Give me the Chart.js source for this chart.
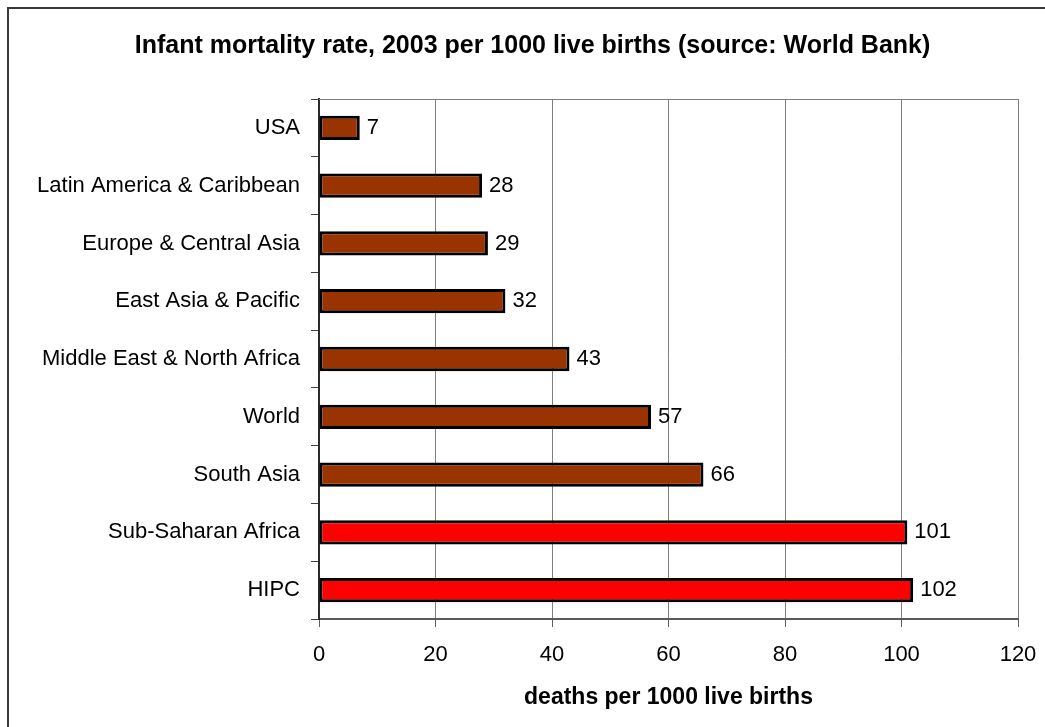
<!DOCTYPE html>
<html>
<head>
<meta charset="utf-8">
<title>Infant mortality rate, 2003</title>
<script src="https://cdn.jsdelivr.net/npm/chart.js@4/dist/chart.umd.min.js"></script>
<style>
  html, body { margin: 0; padding: 0; background: #ffffff; }
  canvas { display: block; }
</style>
</head>
<body>
<canvas id="chart" width="1045" height="727"></canvas>
<script>
// Infant mortality per 1000 live births, 2003 (World Bank)
const regions = [
  'USA',
  'Latin America & Caribbean',
  'Europe & Central Asia',
  'East Asia & Pacific',
  'Middle East & North Africa',
  'World',
  'South Asia',
  'Sub-Saharan Africa',
  'HIPC'
];
const mortalityRates = [7, 28, 29, 32, 43, 57, 66, 101, 102];
const axisTicks = [0, 20, 40, 60, 80, 100, 120];

const chartTitle = 'Infant mortality rate, 2003 per 1000 live births (source: World Bank)';
const axisTitle = 'deaths per 1000 live births';

// Regions shown in red rather than brown
const highlighted = new Set(['Sub-Saharan Africa', 'HIPC']);

const FONT = '"Liberation Sans", Arial, Helvetica, sans-serif';
Chart.defaults.font.family = FONT;
Chart.defaults.color = '#000000';

// Value printed to the right of each bar
const valueLabels = {
  id: 'valueLabels',
  afterDatasetsDraw(chart) {
    const ctx = chart.ctx;
    const meta = chart.getDatasetMeta(0);
    const values = chart.data.datasets[0].data;
    ctx.save();
    ctx.font = '22px ' + FONT;
    ctx.fillStyle = '#000000';
    ctx.textAlign = 'left';
    ctx.textBaseline = 'middle';
    meta.data.forEach((bar, i) => {
      ctx.fillText(String(values[i]), bar.x + 7, bar.y);
    });
    ctx.restore();
  }
};

// Outer frame, heading, and top edge of the plot area
const frame = {
  id: 'frame',
  beforeDraw(chart) {
    const ctx = chart.ctx;
    ctx.save();
    ctx.fillStyle = '#ffffff';
    ctx.fillRect(0, 0, chart.width, chart.height);
    ctx.strokeStyle = '#3a3a3a';
    ctx.lineWidth = 2;
    ctx.beginPath();
    ctx.moveTo(8, chart.height + 5);
    ctx.lineTo(8, 8);
    ctx.lineTo(chart.width + 5, 8);
    ctx.stroke();
    ctx.font = 'bold 25px ' + FONT;
    ctx.fillStyle = '#000000';
    ctx.textAlign = 'center';
    ctx.textBaseline = 'middle';
    ctx.fillText(chartTitle, 532.5, 46);
    ctx.restore();
  },
  afterDraw(chart) {
    const a = chart.chartArea;
    const ctx = chart.ctx;
    ctx.save();
    ctx.strokeStyle = '#808080';
    ctx.lineWidth = 1;
    ctx.beginPath();
    ctx.moveTo(a.left, Math.round(a.top) + 0.5);
    ctx.lineTo(a.right, Math.round(a.top) + 0.5);
    ctx.stroke();
    ctx.restore();
  }
};

new Chart(document.getElementById('chart'), {
  type: 'bar',
  data: {
    labels: regions,
    datasets: [{
      data: mortalityRates,
      backgroundColor: (c) => highlighted.has(regions[c.dataIndex]) ? '#ff0000' : '#993300',
      borderColor: '#000000',
      borderWidth: 3,
      borderSkipped: false,
      categoryPercentage: 1,
      barPercentage: 0.42
    }]
  },
  options: {
    indexAxis: 'y',
    responsive: false,
    animation: false,
    devicePixelRatio: 1,
    layout: { padding: { left: 0, right: 27, top: 99, bottom: 0 } },
    plugins: {
      legend: { display: false },
      tooltip: { enabled: false },
      title: { display: false }
    },
    scales: {
      x: {
        type: 'linear',
        min: 0,
        max: 120,
        afterBuildTicks: (scale) => { scale.ticks = axisTicks.map(v => ({ value: v })); },
        afterFit: (scale) => {
          scale.height = 108;
          scale.paddingRight = 0;
          scale.paddingLeft = 0;
        },
        grid: {
          color: '#808080',
          lineWidth: 1,
          drawTicks: true,
          tickLength: 8,
          tickColor: '#606060'
        },
        border: { display: true, color: '#5a5a5a', width: 2 },
        ticks: {
          font: { size: 22, family: FONT },
          color: '#000000',
          padding: 15,
          maxRotation: 0
        },
        title: {
          display: true,
          text: axisTitle,
          color: '#000000',
          font: { size: 23, weight: 'bold', family: FONT, lineHeight: 1.2 },
          padding: { top: 0, bottom: 16 }
        }
      },
      y: {
        type: 'category',
        afterFit: (scale) => { scale.width = 319; },
        grid: {
          display: true,
          offset: true,
          drawOnChartArea: false,
          drawTicks: true,
          tickLength: 8,
          color: '#404040',
          lineWidth: 1
        },
        border: { display: true, color: '#2a2a2a', width: 2 },
        ticks: {
          font: { size: 22, family: FONT },
          color: '#000000',
          padding: 11,
          autoSkip: false
        }
      }
    }
  },
  plugins: [frame, valueLabels]
});
</script>
</body>
</html>
